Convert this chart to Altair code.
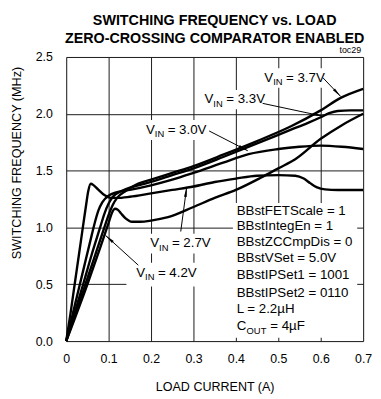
import math
import altair as alt
import pandas as pd

FONT = "Liberation Sans, Arial, sans-serif"
W, H = 301, 288
XMAX, YMAX = 0.7, 2.5
PX_X, PX_Y = W / XMAX, H / YMAX

# ---------------- series data (load current A, frequency MHz) ----------------
x_27 = [0, 0.01, 0.02, 0.03, 0.04, 0.047, 0.052, 0.058, 0.065, 0.075, 0.09, 0.105, 0.12, 0.15,
        0.2, 0.25, 0.3, 0.35, 0.4, 0.45, 0.5, 0.54, 0.56, 0.575, 0.59, 0.61, 0.64, 0.7]
f_27 = [0, 0.24, 0.5, 0.76, 1.02, 1.2, 1.32, 1.385, 1.37, 1.335, 1.285, 1.26, 1.26, 1.27,
        1.30, 1.33, 1.36, 1.40, 1.43, 1.455, 1.46, 1.455, 1.43, 1.39, 1.355, 1.335, 1.33, 1.33]

x_30 = [0, 0.02, 0.04, 0.06, 0.068, 0.076, 0.085, 0.1, 0.12, 0.15, 0.2, 0.25, 0.3, 0.37,
        0.43, 0.5, 0.55, 0.6, 0.65, 0.7]
f_30 = [0, 0.31, 0.62, 0.93, 1.05, 1.15, 1.22, 1.28, 1.31, 1.33, 1.37, 1.42, 1.48, 1.57,
        1.645, 1.69, 1.71, 1.72, 1.71, 1.69]

x_33 = [0, 0.02, 0.04, 0.06, 0.08, 0.09, 0.1, 0.11, 0.13, 0.17, 0.2, 0.25, 0.3, 0.37, 0.45,
        0.53, 0.57, 0.6, 0.62, 0.64, 0.67, 0.7]
f_33 = [0, 0.25, 0.5, 0.76, 1.0, 1.12, 1.21, 1.27, 1.32, 1.37, 1.40, 1.46, 1.52, 1.62, 1.74,
        1.86, 1.92, 1.97, 2.005, 2.025, 2.03, 2.03]

x_37 = [0, 0.02, 0.04, 0.065, 0.09, 0.1, 0.11, 0.12, 0.14, 0.17, 0.2, 0.25, 0.3, 0.37, 0.45,
        0.53, 0.6, 0.647, 0.7]
f_37 = [0, 0.22, 0.44, 0.72, 1.0, 1.11, 1.2, 1.26, 1.32, 1.385, 1.42, 1.48, 1.54, 1.64, 1.76,
        1.89, 2.03, 2.14, 2.22]

x_42 = [0, 0.05, 0.08, 0.1, 0.108, 0.115, 0.122, 0.13, 0.14, 0.155, 0.175, 0.2, 0.24, 0.3,
        0.35, 0.4, 0.46, 0.5, 0.54, 0.6, 0.65, 0.7]
f_42 = [0, 0.5, 0.82, 1.04, 1.13, 1.165, 1.155, 1.12, 1.08, 1.05, 1.05, 1.06, 1.09, 1.18,
        1.26, 1.33, 1.44, 1.52, 1.6, 1.78, 1.9, 2.0]

series_names = ["2.7V", "3.0V", "3.3V", "3.7V", "4.2V"]
series_x = [x_27, x_30, x_33, x_37, x_42]
series_f = [f_27, f_30, f_33, f_37, f_42]

# ---------------- axis ticks ----------------
x_ticks = [0, 0.1, 0.2, 0.3, 0.4, 0.5, 0.6, 0.7]
y_ticks = [0, 0.5, 1.0, 1.5, 2.0, 2.5]

# ---------------- annotations ----------------
label_vin = ["= 3.7V", "= 3.3V", "= 3.0V", "= 2.7V", "= 4.2V"]
label_x = [0.467, 0.326, 0.188, 0.198, 0.165]
label_y = [2.318, 2.127, 1.858, 0.859, 0.599]

arrow_x1 = [0.605, 0.463, 0.337, 0.270, 0.170]
arrow_y1 = [2.318, 2.092, 1.849, 0.964, 0.668]
arrow_x2 = [0.647, 0.605, 0.428, 0.284, 0.093]
arrow_y2 = [2.153, 1.979, 1.675, 1.354, 0.929]

box_x1 = [0.460, 0.320, 0.180, 0.190, 0.142, 0.393]
box_x2 = [0.615, 0.470, 0.335, 0.345, 0.395, 0.686]
box_y1 = [2.230, 2.040, 1.770, 0.770, 0.480, 0.030]
box_y2 = [2.400, 2.210, 1.945, 0.945, 0.690, 1.215]

block_lines = ["BBstFETScale = 1", "BBstIntegEn = 1", "BBstZCCmpDis = 0", "BBstVSet = 5.0V",
               "BBstIPSet1 = 1001", "BBstIPSet2 = 0110", "L = 2.2\u00b5H"]
block_y = [1.141, 1.011, 0.870, 0.735, 0.582, 0.425, 0.286]
block_x = 0.402
cout_y = 0.130
cout_rest = "= 4\u00b5F"

# ---------------- build tables ----------------
rows = []
for name, xs, fs in zip(series_names, series_x, series_f):
    for xv, fv in zip(xs, fs):
        rows.append({"vin": name, "x": xv, "f": fv})
df_lines = pd.DataFrame(rows)

df_boxes = pd.DataFrame({"x": box_x1, "x2": box_x2, "f": box_y1, "f2": box_y2})
df_arrows = pd.DataFrame({"x": arrow_x1, "f": arrow_y1, "x2": arrow_x2, "f2": arrow_y2})

heads = []
for x1, y1, x2, y2 in zip(arrow_x1, arrow_y1, arrow_x2, arrow_y2):
    dxp = (x2 - x1) * PX_X
    dyp = -(y2 - y1) * PX_Y
    ang = math.degrees(math.atan2(dxp, -dyp)) % 360
    heads.append({"x": x2, "f": y2, "ang": ang})
df_heads = pd.DataFrame(heads)

df_labels = pd.DataFrame({"x": label_x, "f": label_y, "rest": label_vin})
df_block = pd.DataFrame({"x": [block_x] * len(block_lines), "f": block_y, "t": block_lines})
df_cout = pd.DataFrame({"x": [block_x], "f": [cout_y], "rest": [cout_rest]})

# ---------------- encodings ----------------
xscale = alt.Scale(domain=[0, XMAX], nice=False, zero=False)
yscale = alt.Scale(domain=[0, YMAX], nice=False, zero=False)
xaxis = alt.Axis(values=x_ticks, labelExpr="datum.value == 0 ? '0' : format(datum.value, '.1f')",
                 labelFont=FONT, labelFontSize=12.5, labelColor="black", labelPadding=12,
                 ticks=False, domain=False, grid=True, gridColor="#1a1a1a", gridWidth=1,
                 labelOverlap=False, labelFlush=False,
                 titleFont=FONT, titleFontSize=12.7, titleFontWeight="normal", titleColor="black",
                 titleY=50, titleBaseline="alphabetic")
yaxis = alt.Axis(values=y_ticks, format=".1f",
                 labelFont=FONT, labelFontSize=12.5, labelColor="black", labelPadding=14,
                 ticks=False, domain=False, grid=True, gridColor="#1a1a1a", gridWidth=1,
                 labelOverlap=False, labelFlush=False,
                 titleFont=FONT, titleFontSize=12.8, titleFontWeight="normal", titleColor="black",
                 titleX=-50, titleY=107, titleAngle=270, titleAlign="center", titleBaseline="middle")


def X():
    return alt.X("x:Q", scale=xscale, axis=xaxis, title="LOAD CURRENT (A)")


def Y():
    return alt.Y("f:Q", scale=yscale, axis=yaxis, title="SWITCHING FREQUENCY (MHz)")


TXT = 13.5
SUB = 9.5

boxes = alt.Chart(df_boxes).mark_rect(fill="white", stroke=None).encode(
    x=X(), x2=alt.X2("x2:Q"), y=Y(), y2=alt.Y2("f2:Q"))

lines = alt.Chart(df_lines).mark_line(color="black", strokeWidth=2.4, interpolate="monotone").encode(
    x=X(), y=Y(), detail="vin:N")

rules = alt.Chart(df_arrows).mark_rule(color="black", strokeWidth=1).encode(
    x=X(), x2=alt.X2("x2:Q"), y=Y(), y2=alt.Y2("f2:Q"))

heads_layer = alt.Chart(df_heads).mark_point(
    shape="M0,0L0.32,2.2L-0.32,2.2Z", filled=True, color="black", opacity=1, size=80, strokeWidth=0
).encode(x=X(), y=Y(), angle=alt.Angle("ang:Q", scale=None))

lab_v = alt.Chart(df_labels).mark_text(font=FONT, fontSize=TXT, align="left", baseline="middle",
                                       color="black").encode(x=X(), y=Y(), text=alt.value("V"))
lab_in = alt.Chart(df_labels).mark_text(font=FONT, fontSize=SUB, align="left", baseline="middle",
                                        color="black", dx=9, dy=4.5).encode(x=X(), y=Y(), text=alt.value("IN"))
lab_rest = alt.Chart(df_labels).mark_text(font=FONT, fontSize=TXT, align="left", baseline="middle",
                                          color="black", dx=22).encode(x=X(), y=Y(), text="rest:N")

block = alt.Chart(df_block).mark_text(font=FONT, fontSize=TXT, align="left", baseline="middle",
                                      color="black").encode(x=X(), y=Y(), text="t:N")
c_c = alt.Chart(df_cout).mark_text(font=FONT, fontSize=TXT, align="left", baseline="middle",
                                   color="black").encode(x=X(), y=Y(), text=alt.value("C"))
c_out = alt.Chart(df_cout).mark_text(font=FONT, fontSize=SUB, align="left", baseline="middle",
                                     color="black", dx=10, dy=4.5).encode(x=X(), y=Y(), text=alt.value("OUT"))
c_rest = alt.Chart(df_cout).mark_text(font=FONT, fontSize=TXT, align="left", baseline="middle",
                                      color="black", dx=34).encode(x=X(), y=Y(), text="rest:N")

toc = alt.Chart(pd.DataFrame({"t": ["toc29"]})).mark_text(
    font=FONT, fontSize=9, align="right", baseline="bottom", color="black"
).encode(x=alt.value(W - 2), y=alt.value(-2), text="t:N")

chart = alt.layer(boxes, lines, rules, heads_layer, lab_v, lab_in, lab_rest,
                  block, c_c, c_out, c_rest, toc).properties(
    width=W, height=H,
    autosize=alt.AutoSizeParams(type="none"),
    padding={"left": 59, "top": 47, "right": 10, "bottom": 52},
    title=alt.TitleParams(["SWITCHING FREQUENCY vs. LOAD", "ZERO-CROSSING COMPARATOR ENABLED"],
                          font=FONT, fontSize=14.5, fontWeight="bold", color="black",
                          anchor="middle", frame="group", lineHeight=18, offset=0),
).configure_view(stroke="black", strokeWidth=2.5).configure(background="white")

chart.save("out.html", embed_options={"renderer": "svg", "actions": False})
